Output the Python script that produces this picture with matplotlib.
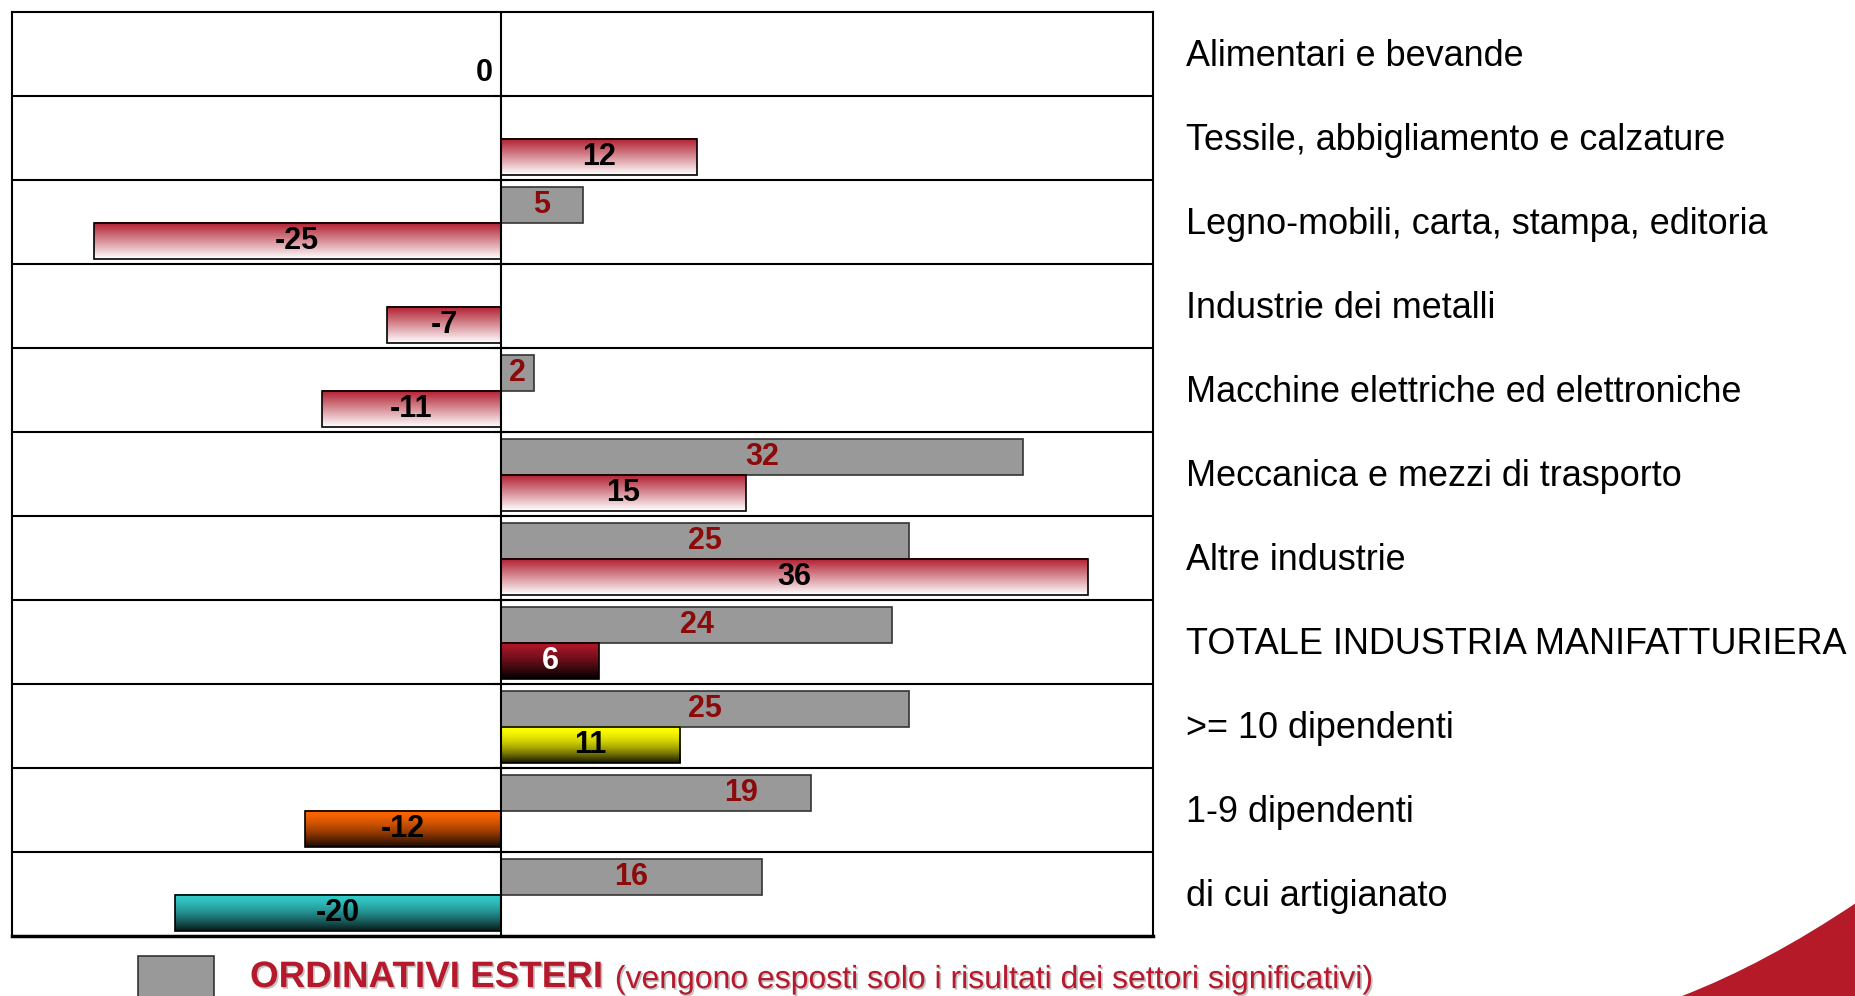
import numpy as np
import matplotlib.pyplot as plt
import matplotlib.transforms as mtransforms
import matplotlib.patheffects as pe
from matplotlib.colors import to_rgb
from matplotlib.patches import Rectangle, PathPatch
from matplotlib.path import Path

categories = [
    "Alimentari e bevande",
    "Tessile, abbigliamento e calzature",
    "Legno-mobili, carta, stampa, editoria",
    "Industrie dei metalli",
    "Macchine elettriche ed elettroniche",
    "Meccanica e mezzi di trasporto",
    "Altre industrie",
    "TOTALE INDUSTRIA MANIFATTURIERA",
    ">= 10 dipendenti",
    "1-9 dipendenti",
    "di cui artigianato",
]
# foreign orders (only significant sectors shown)
ordinativi_esteri = [np.nan, np.nan, 5, np.nan, 2, 32, 25, 24, 25, 19, 16]
# total orders
ordinativi_totali = [0, 12, -25, -7, -11, 15, 36, 6, 11, -12, -20]

# gradient colours for the main bars (top -> bottom)
top_colors = ["#b01c2e"] * 7 + ["#b3182a", "#ffff00", "#ff6600", "#33cccc"]
bottom_colors = ["#ffffff"] * 7 + ["#000000", "#141400", "#1a0800", "#081818"]
grad_power = [1.0] * 7 + [1.2, 1.8, 1.5, 1.5]
label_colors = ["black"] * 7 + ["white", "black", "black", "black"]
# the "19" label sits off-centre in the original
gray_label_nudge = {9: 5.2}

RED = "#b5192b"
NARROW = ["Liberation Sans Narrow", "Liberation Sans", "DejaVu Sans"]
SANS = ["Liberation Sans", "DejaVu Sans"]

W, H = 1856, 996
fig = plt.figure(figsize=(W / 100, H / 100), dpi=100)
ax = fig.add_axes([12 / W, 60 / H, 1141 / W, 924 / H])

y = np.arange(len(categories))
h = 0.43
gray = ax.barh(y - 0.205, ordinativi_esteri, height=h, color="#999999",
               edgecolor="#333333", linewidth=1.2, zorder=3)
main = ax.barh(y + 0.225, ordinativi_totali, height=h, color="none",
               edgecolor="black", linewidth=1.2, zorder=5)

t = np.linspace(0, 1, 80)[:, None, None]
for p, c0, c1, gp, lc, v in zip(main.patches, top_colors, bottom_colors,
                                grad_power, label_colors, ordinativi_totali):
    x0, y0, w, hh = p.get_x(), p.get_y(), p.get_width(), p.get_height()
    if w != 0:
        tt = t ** gp
        grad = np.array(to_rgb(c0))[None, None, :] * (1 - tt) + \
            np.array(to_rgb(c1))[None, None, :] * tt
        ax.imshow(grad, extent=(min(x0, x0 + w), max(x0, x0 + w), y0 + hh, y0),
                  origin="upper", aspect="auto", interpolation="bilinear", zorder=4)
        xt, ha = x0 + w / 2, "center"
    else:
        xt, ha = -0.5, "right"
    ax.text(xt, y0 + hh / 2, f"{v:g}", ha=ha, va="center", fontsize=22,
            fontweight="bold", family=NARROW, color=lc, zorder=6)

for i, (p, v) in enumerate(zip(gray.patches, ordinativi_esteri)):
    if np.isnan(v):
        continue
    ax.text(p.get_x() + p.get_width() / 2 + gray_label_nudge.get(i, 0),
            p.get_y() + p.get_height() / 2,
            f"{v:g}", ha="center", va="center", fontsize=22, fontweight="bold",
            family=NARROW, color="#8c0a0a", zorder=6)

for b in np.arange(0.5, len(categories) - 1, 1):
    ax.axhline(b, color="black", linewidth=1.5, zorder=2)
    ax.plot(0, b, marker="_", markersize=10, color="black", mew=1.5, zorder=2)
ax.axvline(0, color="black", linewidth=1.5, zorder=6)

ax.set_xlim(-30, 40)
ax.set_ylim(len(categories) - 0.5, -0.5)
ax.set_xticks([])
ax.set_yticks([])
for s in ax.spines.values():
    s.set_linewidth(1.5)
    s.set_color("black")
ax.spines["bottom"].set_linewidth(2.5)

trans = mtransforms.blended_transform_factory(fig.transFigure, ax.transData)
for i, cat in enumerate(categories):
    ax.text(1186 / W, i + 0.03, cat, transform=trans, ha="left", va="center",
            fontsize=25.9, family=SANS, color="black", clip_on=False)

# legend
fig.add_artist(Rectangle((138 / W, -0.03), 76 / W, 0.03 + 40 / H,
                         transform=fig.transFigure, facecolor="#999999",
                         edgecolor="#333333", linewidth=1.2))
shadow = [pe.withSimplePatchShadow(offset=(1.2, -1.2), shadow_rgbFace="#999999",
                                   alpha=0.6)]
t1 = fig.text(250 / W, 0.009, "ORDINATIVI ESTERI", fontsize=26.5, fontweight="bold",
              family=SANS, color=RED, va="baseline", path_effects=shadow)
plt.annotate("(vengono esposti solo i risultati dei settori significativi)",
             xy=(1, 0), xycoords=t1, xytext=(9, 0), textcoords="offset points",
             va="bottom", ha="left", fontsize=23, family=SANS, color=RED,
             path_effects=shadow, annotation_clip=False)

# decorative corner shape
verts = [(1682 / W, 1 - 996 / H), (1765 / W, 1 - 964 / H), (1856 / W, 1 - 903 / H),
         (1.01, 1 - 903 / H), (1.01, -0.01), (1682 / W, -0.01), (1682 / W, 1 - 996 / H)]
codes = [Path.MOVETO, Path.CURVE3, Path.CURVE3, Path.LINETO, Path.LINETO,
         Path.LINETO, Path.CLOSEPOLY]
fig.add_artist(PathPatch(Path(verts, codes), transform=fig.transFigure,
                         facecolor="#b41a28", edgecolor="none"))

fig.savefig("out.png", dpi=100)
